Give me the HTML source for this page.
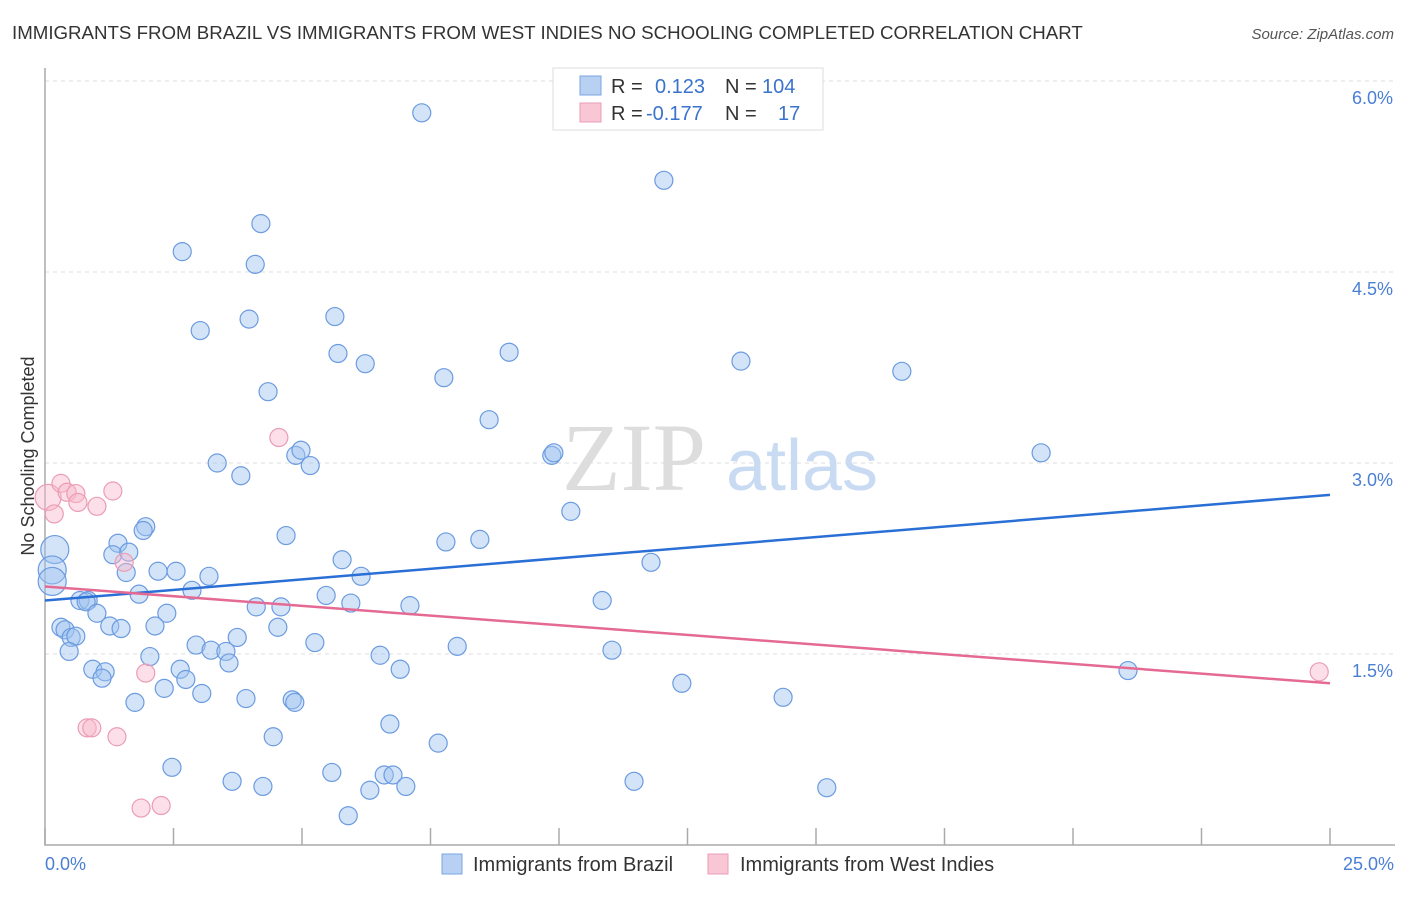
<!DOCTYPE html>
<html><head><meta charset="utf-8"><style>
body{margin:0;background:#fff;font-family:"Liberation Sans",sans-serif}
</style></head><body>
<svg width="1406" height="892" xmlns="http://www.w3.org/2000/svg">
<text x="12" y="39" font-size="18.7" fill="#333">IMMIGRANTS FROM BRAZIL VS IMMIGRANTS FROM WEST INDIES NO SCHOOLING COMPLETED CORRELATION CHART</text>
<text x="1394" y="39" font-size="15" fill="#555" font-style="italic" text-anchor="end">Source: ZipAtlas.com</text>
<g id="grid"></g>
<text x="634" y="490" font-size="96" fill="#ddd" text-anchor="middle" font-family="Liberation Serif">ZIP</text>
<text x="802" y="490" font-size="72" fill="#c9dbf2" text-anchor="middle">atlas</text>
<g id="pts"></g>
<g id="lines"></g>
<text transform="translate(34,456) rotate(-90)" font-size="18" fill="#333" text-anchor="middle">No Schooling Completed</text>
<text x="45" y="870" font-size="18" fill="#4a7fd4">0.0%</text>
<text x="1394" y="870" font-size="18" fill="#4a7fd4" text-anchor="end">25.0%</text>
<g>
<rect x="553" y="68" width="270" height="62" fill="#fff" stroke="#ddd"/>
<rect x="580" y="76" width="21" height="19" fill="#b8d1f3" stroke="#7aa5e0"/>
<rect x="580" y="103" width="21" height="19" fill="#f9c6d5" stroke="#eb9db5"/>
<text x="611" y="93" font-size="20" fill="#333">R =</text><text x="655" y="93" font-size="20" fill="#3a73cc">0.123</text>
<text x="725" y="93" font-size="20" fill="#333">N =</text><text x="762" y="93" font-size="20" fill="#3a73cc">104</text>
<text x="611" y="120" font-size="20" fill="#333">R =</text><text x="646" y="120" font-size="20" fill="#3a73cc">-0.177</text>
<text x="725" y="120" font-size="20" fill="#333">N =</text><text x="778" y="120" font-size="20" fill="#3a73cc">17</text>
</g>
<g>
<rect x="442" y="854" width="20" height="20" fill="#b8d1f3" stroke="#7aa5e0"/>
<text x="473" y="871" font-size="20" fill="#333">Immigrants from Brazil</text>
<rect x="708" y="854" width="20" height="20" fill="#f9c6d5" stroke="#eb9db5"/>
<text x="740" y="871" font-size="20" fill="#333">Immigrants from West Indies</text>
</g>
</svg>
<script>
const yTicks=[1.5,3.0,4.5,6.0];
const yTickLabels=["1.5%","3.0%","4.5%","6.0%"];
const xTicks=[0,2.5,5,7.5,10,12.5,15,17.5,20,22.5,25];
const brazilX=[7.33,12.04,2.67,4.20,4.09,3.02,3.97,5.64,5.70,6.23,9.03,13.54,16.67,7.76,4.34,8.64,4.88,4.98,5.16,3.35,3.81,9.86,9.90,19.38,10.23,1.96,1.91,1.42,4.69,7.80,8.46,1.32,1.63,0.19,5.78,11.79,0.14,0.14,1.58,2.20,2.55,3.19,6.15,2.86,1.83,5.47,0.68,0.84,0.80,5.95,7.10,10.84,4.11,4.59,1.01,2.37,0.31,0.39,1.26,1.48,2.14,0.51,0.60,4.53,0.47,2.94,3.74,5.25,3.23,3.52,8.02,11.03,2.04,6.52,3.58,0.93,1.17,2.63,6.91,21.07,1.11,2.74,12.39,2.32,3.05,3.91,4.81,4.86,14.36,1.75,6.71,4.44,7.65,2.47,5.58,6.60,6.77,3.64,11.46,4.24,6.32,7.02,15.21,5.90];
const brazilY=[5.75,5.22,4.66,4.88,4.56,4.04,4.13,4.15,3.86,3.78,3.87,3.80,3.72,3.67,3.56,3.34,3.06,3.10,2.98,3.00,2.90,3.06,3.08,3.08,2.62,2.50,2.47,2.37,2.43,2.38,2.40,2.28,2.30,2.32,2.24,2.22,2.16,2.07,2.14,2.15,2.15,2.11,2.11,2.00,1.97,1.96,1.92,1.92,1.91,1.90,1.88,1.92,1.87,1.87,1.82,1.82,1.71,1.69,1.72,1.70,1.72,1.63,1.64,1.71,1.52,1.57,1.63,1.59,1.53,1.52,1.56,1.53,1.48,1.49,1.43,1.38,1.36,1.38,1.38,1.37,1.31,1.30,1.27,1.23,1.19,1.15,1.14,1.12,1.16,1.12,0.95,0.85,0.80,0.61,0.57,0.55,0.55,0.50,0.50,0.46,0.43,0.46,0.45,0.23];
const brazilBig=[33,36,37];
const wiX=[0.06,0.31,0.43,0.60,0.64,0.18,1.01,1.32,4.55,1.54,1.96,0.82,0.91,1.40,1.87,2.26,24.79];
const wiY=[2.73,2.84,2.77,2.76,2.69,2.60,2.66,2.78,3.20,2.22,1.35,0.92,0.92,0.85,0.29,0.31,1.36];
const brazilTrend=[1.92,2.75];
const wiTrend=[2.03,1.27];
const NS="http://www.w3.org/2000/svg";
const X=v=>45+v*(1285/25);
const Y=v=>845-v*(191/1.5);
function mk(t,a,p){const e=document.createElementNS(NS,t);for(const k in a)e.setAttribute(k,a[k]);p.appendChild(e);return e;}
const grid=document.getElementById('grid');
yTicks.forEach((t,i)=>{
 const l=mk('line',{x1:45,x2:1395,y1:Y(t),y2:Y(t),stroke:'#ddd','stroke-dasharray':'4,4'},grid);
 
 
 const tx=mk('text',{x:1393,y:Y(t)+23,'font-size':18,fill:'#4a7fd4','text-anchor':'end'},grid);
 tx.textContent=yTickLabels[i];
 
 
});
const ax=mk('path',{d:'M45 68V845H1395',fill:'none',stroke:'#aaa','stroke-width':1.5},grid);


xTicks.forEach(t=>{
 const l=mk('line',{x1:X(t),x2:X(t),y1:828,y2:845,stroke:'#aaa','stroke-width':1.5},grid);
 
 
});
const pts=document.getElementById('pts');
brazilX.forEach((x,i)=>{
 const c=mk('circle',{cx:X(x),cy:Y(brazilY[i]),r:brazilBig.includes(i)?14:9,fill:'rgba(160,195,240,0.45)',stroke:'#6b9be0','stroke-width':1.2},pts);
 
 
});
wiX.forEach((x,i)=>{
 const c=mk('circle',{cx:X(x),cy:Y(wiY[i]),r:i==0?13:9,fill:'rgba(248,185,205,0.45)',stroke:'#eb9db5','stroke-width':1.2},pts);
 
 
});
const ln=document.getElementById('lines');
const b=mk('line',{x1:X(0),x2:X(25),y1:Y(brazilTrend[0]),y2:Y(brazilTrend[1]),stroke:'#2a6fd6','stroke-width':2.5},ln);


const w=mk('line',{x1:X(0),x2:X(25),y1:Y(wiTrend[0]),y2:Y(wiTrend[1]),stroke:'#e56a93','stroke-width':2.5},ln);


</script>
</body></html>
